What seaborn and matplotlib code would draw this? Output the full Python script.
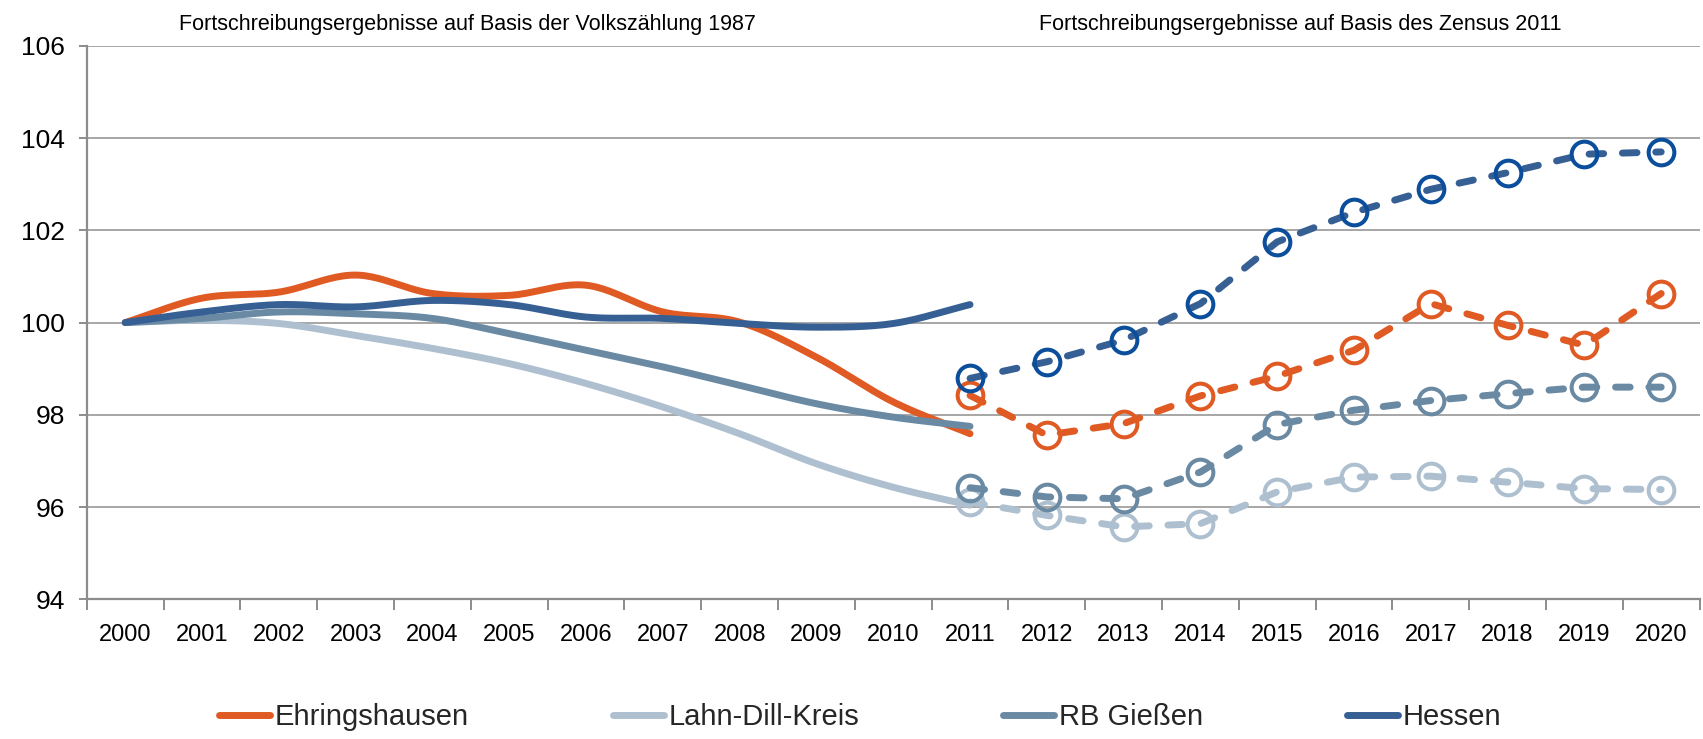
import numpy as np
import pandas as pd
import matplotlib
matplotlib.use("Agg")
import matplotlib.pyplot as plt
import matplotlib.transforms as mtransforms
from matplotlib.lines import Line2D
import seaborn as sns

# ---- data: population index (2000 = 100) ----
years = [str(y) for y in range(2000, 2021)]
series_names = ["Ehringshausen", "Lahn-Dill-Kreis", "RB Gießen", "Hessen"]
section_titles = ["Fortschreibungsergebnisse auf Basis der Volkszählung 1987",
                  "Fortschreibungsergebnisse auf Basis des Zensus 2011"]

# updates based on census 1987, 2000-2011
ehr_vz87 = [100.0, 100.53, 100.66, 101.03, 100.63, 100.59, 100.81, 100.23, 100.01, 99.25, 98.28, 97.59]
ldk_vz87 = [100.0, 100.05, 99.98, 99.72, 99.44, 99.11, 98.68, 98.17, 97.59, 96.94, 96.43, 96.04]
rbg_vz87 = [100.0, 100.09, 100.23, 100.19, 100.09, 99.76, 99.40, 99.04, 98.64, 98.24, 97.95, 97.75]
hes_vz87 = [100.0, 100.23, 100.39, 100.34, 100.48, 100.39, 100.12, 100.09, 99.98, 99.90, 99.98, 100.39]

# updates based on census 2011, 2011-2020
ehr_z11 = [98.42, 97.56, 97.81, 98.41, 98.84, 99.40, 100.41, 99.94, 99.51, 100.63]
ldk_z11 = [96.11, 95.82, 95.57, 95.64, 96.33, 96.65, 96.67, 96.54, 96.40, 96.38]
rbg_z11 = [96.42, 96.22, 96.18, 96.76, 97.79, 98.10, 98.31, 98.46, 98.60, 98.60]
hes_z11 = [98.79, 99.15, 99.62, 100.41, 101.75, 102.39, 102.89, 103.25, 103.65, 103.70]

line_colors = ["#E05A24", "#AEC0CF", "#6A8AA4", "#365F93"]
marker_edges = ["#E05A24", "#AEC0CF", "#6A8AA4", "#0A4E9C"]

vz87 = [ehr_vz87, ldk_vz87, rbg_vz87, hes_vz87]
z11 = [ehr_z11, ldk_z11, rbg_z11, hes_z11]

FONT = ["Liberation Sans Narrow", "Liberation Sans", "DejaVu Sans"]
sns.set_theme(style="white")
plt.rcParams["font.family"] = FONT


def smooth_curve(xs, ys, steps=24):
    """Catmull-Rom curve through the points, like a smoothed office-chart line."""
    xs = np.asarray(xs, float)
    ys = np.asarray(ys, float)
    px = np.concatenate([[2 * xs[0] - xs[1]], xs, [2 * xs[-1] - xs[-2]]])
    py = np.concatenate([[2 * ys[0] - ys[1]], ys, [2 * ys[-1] - ys[-2]]])
    out_x, out_y = [], []
    t = np.linspace(0, 1, steps, endpoint=False)
    for i in range(1, len(px) - 2):
        for arr, out in ((px, out_x), (py, out_y)):
            p0, p1, p2, p3 = arr[i - 1], arr[i], arr[i + 1], arr[i + 2]
            out.extend(0.5 * ((2 * p1) + (-p0 + p2) * t
                              + (2 * p0 - 5 * p1 + 4 * p2 - p3) * t ** 2
                              + (-p0 + 3 * p1 - 3 * p2 + p3) * t ** 3))
    out_x.append(xs[-1])
    out_y.append(ys[-1])
    return np.array(out_x), np.array(out_y)


W, H, DPI = 1703, 739, 100
fig, ax = plt.subplots(figsize=(W / DPI, H / DPI), dpi=DPI)
fig.subplots_adjust(left=0.051, right=0.998, top=0.938, bottom=0.189)

x_old = np.arange(0, 12)
x_new = np.arange(11, 21)

lw = 5.0
for name, vals, col in zip(series_names, vz87, line_colors):
    sx, sy = smooth_curve(x_old, vals)
    df = pd.DataFrame({"x": sx, "y": sy})
    sns.lineplot(data=df, x="x", y="y", ax=ax, color=col, lw=lw,
                 sort=False, estimator=None, solid_capstyle="round", zorder=3)

for name, vals, col, mec in zip(series_names, z11, line_colors, marker_edges):
    df = pd.DataFrame({"x": x_new, "y": vals})
    sns.lineplot(data=df, x="x", y="y", ax=ax, color=col, lw=lw,
                 marker="o", markersize=18.5, markerfacecolor="none",
                 markeredgecolor=mec, markeredgewidth=2.9,
                 sort=False, estimator=None, zorder=4)
    ln = ax.lines[-1]
    ln.set_dashes([2.1, 2.7])
    ln.set_dash_capstyle("round")

# axes styling
ax.set_xlim(-0.5, 20.5)
ax.set_ylim(94, 106)
ax.set_yticks(np.arange(94, 107, 2))
ax.set_xticks(np.arange(21))
ax.set_xticklabels(years)
ax.set_xticks(np.arange(-0.5, 21, 1), minor=True)
ax.set_xlabel("")
ax.set_ylabel("")
ax.grid(axis="y", color="#A6A6A6", lw=1.4, zorder=0)
ax.grid(axis="x", visible=False)
for s in ["top", "right"]:
    ax.spines[s].set_visible(False)
for s in ["left", "bottom"]:
    ax.spines[s].set_color("#8C8C8C")
    ax.spines[s].set_linewidth(1.6)
ax.tick_params(axis="x", which="major", length=0, pad=18, labelsize=17, labelcolor="black")
ax.tick_params(axis="x", which="minor", length=8, width=1.4, color="#8C8C8C", direction="out")
ax.tick_params(axis="y", which="major", length=6, width=1.4, color="#8C8C8C", direction="out",
               pad=10, labelsize=19, labelcolor="black")
ax.tick_params(left=True, bottom=False, which="major")
ax.tick_params(bottom=True, which="minor")

# section headings above the two periods
trans = mtransforms.blended_transform_factory(ax.transData, fig.transFigure)
ax.text(4.45, 0.967, section_titles[0], transform=trans, ha="center", va="center",
        fontsize=15.5, color="black")
ax.text(15.3, 0.967, section_titles[1], transform=trans, ha="center", va="center",
        fontsize=15.5, color="black")

# legend
handles = [Line2D([0], [0], color=c, lw=5.0, solid_capstyle="round") for c in line_colors]
fig.legend(handles, series_names, loc="center", bbox_to_anchor=(0.505, 0.03),
           ncol=4, frameon=False, fontsize=21, handlelength=1.75, handletextpad=0.15,
           columnspacing=4.95)

fig.savefig("out.png", dpi=DPI)
